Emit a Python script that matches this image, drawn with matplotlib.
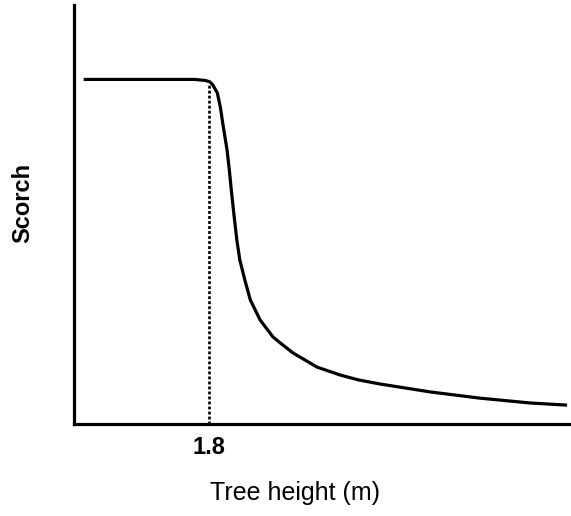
import matplotlib
matplotlib.use("Agg")
import matplotlib.pyplot as plt

# curve (x in m, scorch in arbitrary % units)
height = [0.15, 1.61, 1.75, 1.81, 1.85, 1.91, 1.95, 1.99, 2.04, 2.07,
          2.10, 2.135, 2.17, 2.21, 2.28, 2.35, 2.48, 2.65, 2.75, 2.92,
          3.24, 3.55, 3.79, 4.08, 4.75, 5.41, 6.08, 6.55]
scorch = [100, 100, 99.7, 99.3, 98.4, 96.1, 92.0, 86.2, 79.5, 73.7,
          67.1, 60.1, 53.4, 47.6, 41.5, 36.0, 30.2, 25.3, 23.5, 20.6,
          16.5, 14.2, 12.8, 11.6, 9.3, 7.5, 6.1, 5.5]
threshold = 1.8
threshold_top = 98.4

plt.rcParams["font.family"] = ["Liberation Sans", "DejaVu Sans"]

fig = plt.figure(figsize=(5.71, 5.16), dpi=100)
ax = fig.add_axes([74 / 571, 92 / 516, 496 / 571, 419 / 516])

ax.plot(height, scorch, color="black", lw=2.3, solid_joinstyle="round")
ax.plot([threshold, threshold], [0, threshold_top], color="black", lw=1.9,
        linestyle=(0, (1.1, 0.8)))

ax.set_xlim(0, 6.61)
ax.set_ylim(0, 121.6)
ax.set_xticks([threshold])
ax.set_xticklabels(["1.8"], fontsize=17, fontweight="bold")
ax.set_yticks([])
ax.tick_params(axis="x", length=0, pad=9)

for side in ["top", "right"]:
    ax.spines[side].set_visible(False)
for side in ["left", "bottom"]:
    ax.spines[side].set_linewidth(2.3)

ax.set_xlabel("Tree height (m)", fontsize=18)
ax.xaxis.set_label_coords(0.446, -0.165)
ax.xaxis.label.set_va("center")
ax.set_ylabel("Scorch", fontsize=17, fontweight="bold")
ax.yaxis.set_label_coords(-0.103, 0.527)
ax.yaxis.label.set_va("center")

fig.savefig("out.png", dpi=100)
